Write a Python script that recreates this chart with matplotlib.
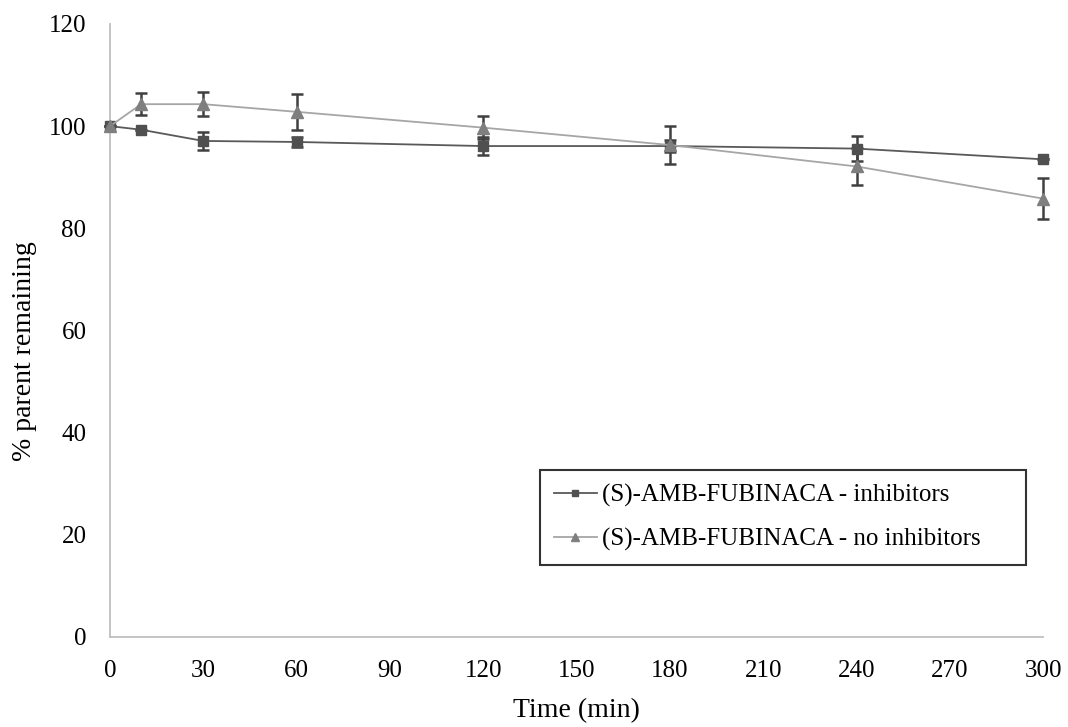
import matplotlib.pyplot as plt
from matplotlib.lines import Line2D

time_min = [0, 10, 30, 60, 120, 180, 240, 300]
inhib = [100, 99.3, 97.1, 96.9, 96.1, 96.1, 95.6, 93.5]
inhib_err = [0, 0, 1.7, 1.0, 1.7, 1.2, 2.4, 0]
no_inhib = [100, 104.3, 104.3, 102.8, 99.7, 96.3, 92.1, 85.8]
no_inhib_err = [0, 2.2, 2.4, 3.5, 2.3, 3.8, 3.7, 4.0]
labels = ['(S)-AMB-FUBINACA - inhibitors', '(S)-AMB-FUBINACA - no inhibitors']

plt.rcParams['font.family'] = ['Liberation Serif', 'DejaVu Serif']

fig = plt.figure(figsize=(10.68, 7.27), dpi=100)
ax = fig.add_axes([0.103, 0.124, 0.874, 0.843])

dark, dark_line = '#505050', '#595959'
grey, grey_line = '#7f7f7f', '#a6a6a6'

ax.errorbar(time_min, inhib, yerr=inhib_err, color=dark_line, lw=1.3,
            marker='s', ms=7, mfc=dark, mec=dark,
            ecolor='#404040', elinewidth=1.8, capsize=4, capthick=1.8,
            clip_on=False, zorder=3)
ax.errorbar(time_min, no_inhib, yerr=no_inhib_err, color=grey_line, lw=1.3,
            marker='^', ms=8, mfc=grey, mec=grey,
            ecolor='#404040', elinewidth=1.8, capsize=4, capthick=1.8,
            clip_on=False, zorder=3)

ax.set_xlim(0, 300)
ax.set_ylim(0, 120)
ax.set_xticks(range(0, 301, 30))
ax.set_yticks(range(0, 121, 20))
ax.tick_params(length=0, labelsize=18, pad=17)
for s in ['top', 'right']:
    ax.spines[s].set_visible(False)
for s in ['left', 'bottom']:
    ax.spines[s].set_color('#bfbfbf')
    ax.spines[s].set_linewidth(1.3)

ax.set_xlabel('Time (min)', fontsize=20)
ax.set_ylabel('% parent remaining', fontsize=20)
ax.xaxis.set_label_coords(0.5, -0.1)
ax.yaxis.set_label_coords(-0.078, 0.467)

# legend markers are smaller than the plotted ones
handles = [Line2D([], [], color=dark_line, lw=1.3, marker='s', ms=5, mfc=dark, mec=dark),
           Line2D([], [], color=grey_line, lw=1.3, marker='^', ms=6, mfc=grey, mec=grey)]
leg = ax.legend(handles, labels, loc='lower left', mode='expand',
                bbox_to_anchor=(0.461, 0.117, 0.52, 0.155), fontsize=18,
                frameon=True, fancybox=False, edgecolor='black',
                borderpad=0.55, labelspacing=0.85, handlelength=1.7,
                handletextpad=0.2, borderaxespad=0)
leg.get_frame().set_linewidth(1.5)

fig.savefig('out.png', dpi=100)
